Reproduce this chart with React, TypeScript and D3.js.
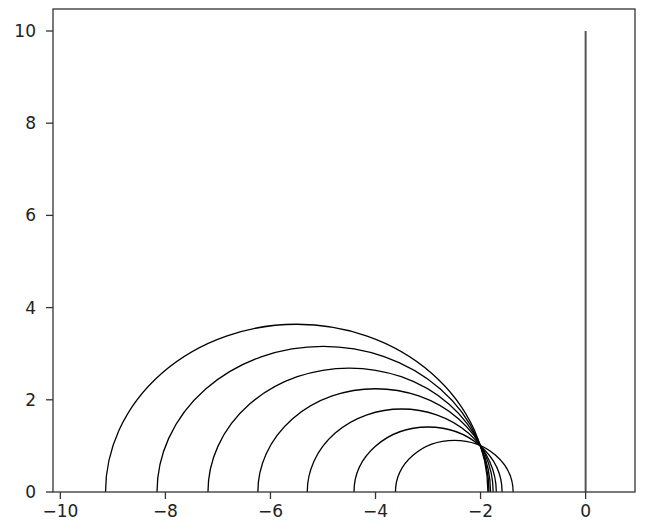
import React from "react";
import * as d3 from "d3";

// circles centred on the x axis (all pass near (-2, 1))
const centers = [-5.5, -5.0, -4.5, -4.0, -3.5, -3.0, -2.5];
const radii = [3.64, 3.16, 2.69, 2.24, 1.8, 1.41, 1.12];

// the vertical line at x = 0
const lineX = [0, 0];
const lineY = [0, 10];

const xTicks = [-10, -8, -6, -4, -2, 0];
const yTicks = [0, 2, 4, 6, 8, 10];

const W = 645;
const H = 521;
const left = 53;
const right = 635;
const top = 9;
const bottom = 492;

export default function App() {
  const x = d3.scaleLinear().domain([-10.14, 0.94]).range([left, right]);
  const y = d3.scaleLinear().domain([0, 10.477]).range([bottom, top]);

  const semi = (c: number, r: number) => {
    const rx = x(c + r) - x(c);
    const ry = y(0) - y(r);
    return `M${x(c - r)},${y(0)} A${rx},${ry} 0 0 1 ${x(c + r)},${y(0)}`;
  };

  const vline = d3
    .line<number>()
    .x((d) => x(d))
    .y((_, i) => y(lineY[i]));

  const font = "'DejaVu Sans', sans-serif";

  return (
    <svg
      width={W}
      height={H}
      style={{ position: "absolute", left: 0, top: 0, background: "#fff" }}
    >
      <g fill="none" stroke="#000" strokeWidth={1.3}>
        {centers.map((c, i) => (
          <path key={i} d={semi(c, radii[i])} />
        ))}
      </g>
      <path d={vline(lineX) || ""} fill="none" stroke="#555" strokeWidth={2} />

      <rect
        x={left}
        y={top}
        width={right - left}
        height={bottom - top}
        fill="none"
        stroke="#333"
        strokeWidth={1.3}
      />

      {xTicks.map((t) => (
        <g key={t} transform={`translate(${x(t)},${bottom})`}>
          <line y2={7} stroke="#333" strokeWidth={1.3} />
          <text
            y={25}
            textAnchor="middle"
            fontFamily={font}
            fontSize={17}
            fill="#222"
          >
            {t < 0 ? `\u2212${-t}` : t}
          </text>
        </g>
      ))}
      {yTicks.map((t) => (
        <g key={t} transform={`translate(${left},${y(t)})`}>
          <line x2={-7} stroke="#333" strokeWidth={1.3} />
          <text
            x={-17}
            dy="0.35em"
            textAnchor="end"
            fontFamily={font}
            fontSize={17}
            fill="#222"
          >
            {t}
          </text>
        </g>
      ))}
    </svg>
  );
}
